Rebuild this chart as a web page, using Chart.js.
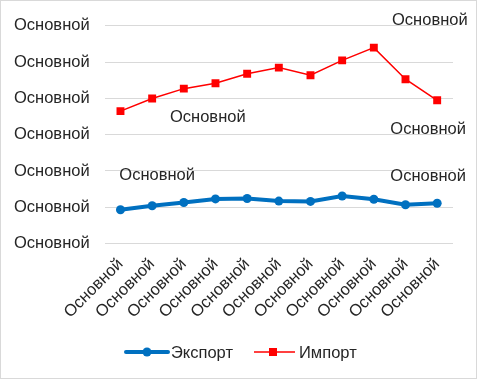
<!DOCTYPE html>
<html>
<head>
<meta charset="utf-8">
<script src="https://cdn.jsdelivr.net/npm/chart.js@4"></script>
<style>
  html, body { margin: 0; padding: 0; background: #fff; }
  #wrap { width: 477px; height: 379px; box-sizing: border-box; border: 1px solid #d9d9d9; }
  canvas { display: block; }
</style>
</head>
<body>
<div id="wrap"><canvas id="grafico" width="475" height="377"></canvas></div>
<script>
const categorias = ["Основной", "Основной", "Основной", "Основной", "Основной", "Основной",
  "Основной", "Основной", "Основной", "Основной", "Основной"];
const exportValores = [0.93, 1.04, 1.13, 1.23, 1.24, 1.17, 1.16, 1.31, 1.22, 1.07, 1.11];
const importValores = [3.65, 4.0, 4.27, 4.42, 4.68, 4.85, 4.64, 5.05, 5.4, 4.53, 3.95];
const yTickTexto = "Основной";
const rotuloTexto = "Основной";

const familia = "'Liberation Sans', Arial, sans-serif";
const fonte = "16.5px " + familia;
const corTexto = "#262626";

// rotulos de dados: [dataset, indice, dx, dy]
const rotulos = [
  [1, 2, 24, 29],
  [1, 8, 56, -27],
  [1, 10, -9, 29],
  [0, 1, 5, -30],
  [0, 10, -9, -27]
];

const pluginRotulos = {
  id: "rotulos",
  afterDatasetsDraw(chart) {
    const ctx = chart.ctx;
    ctx.save();
    ctx.font = fonte;
    ctx.fillStyle = corTexto;
    ctx.textAlign = "center";
    ctx.textBaseline = "middle";
    rotulos.forEach(([ds, i, dx, dy]) => {
      const p = chart.getDatasetMeta(ds).data[i];
      ctx.fillText(rotuloTexto, p.x + dx, p.y + dy);
    });
    ctx.restore();
  }
};

const pluginLegenda = {
  id: "legendaCustom",
  afterDraw(chart) {
    const ctx = chart.ctx;
    const y = 351;
    ctx.save();
    ctx.font = fonte;
    ctx.textBaseline = "middle";
    ctx.fillStyle = corTexto;

    // Экспорт
    ctx.strokeStyle = "#0070C0";
    ctx.lineWidth = 4;
    ctx.lineCap = "round";
    ctx.beginPath();
    ctx.moveTo(125, y);
    ctx.lineTo(167, y);
    ctx.stroke();
    ctx.fillStyle = "#0070C0";
    ctx.beginPath();
    ctx.arc(146, y, 4.5, 0, Math.PI * 2);
    ctx.fill();
    ctx.fillStyle = corTexto;
    ctx.fillText(chart.data.datasets[0].label, 170, y + 1);

    // Импорт
    ctx.strokeStyle = "#FF0000";
    ctx.lineWidth = 1.5;
    ctx.lineCap = "butt";
    ctx.beginPath();
    ctx.moveTo(253, y);
    ctx.lineTo(294, y);
    ctx.stroke();
    ctx.fillStyle = "#FF0000";
    ctx.fillRect(268, y - 4, 8, 8);
    ctx.fillStyle = corTexto;
    ctx.fillText(chart.data.datasets[1].label, 298, y + 1);
    ctx.restore();
  }
};

const ctx = document.getElementById("grafico").getContext("2d");

new Chart(ctx, {
  type: "line",
  data: {
    labels: categorias,
    datasets: [
      {
        label: "Экспорт",
        data: exportValores,
        borderColor: "#0070C0",
        backgroundColor: "#0070C0",
        borderWidth: 4,
        pointStyle: "circle",
        pointRadius: 4.5,
        pointBorderWidth: 0,
        tension: 0
      },
      {
        label: "Импорт",
        data: importValores,
        borderColor: "#FF0000",
        backgroundColor: "#FF0000",
        borderWidth: 1.5,
        pointStyle: "rect",
        pointRadius: 5.6,
        pointBorderWidth: 0,
        tension: 0
      }
    ]
  },
  options: {
    responsive: false,
    animation: false,
    layout: {
      padding: { left: -2, right: 23, top: 14, bottom: 45 }
    },
    plugins: {
      legend: { display: false },
      tooltip: { enabled: false }
    },
    scales: {
      x: {
        offset: true,
        grid: { display: false, drawTicks: false },
        border: { display: false },
        ticks: {
          autoSkip: false,
          maxRotation: 45,
          minRotation: 45,
          padding: 11,
          color: corTexto,
          font: { family: familia, size: 16.5 }
        }
      },
      y: {
        min: 0,
        max: 6,
        grid: { color: "#d9d9d9", lineWidth: 1, drawTicks: false },
        border: { display: false },
        ticks: {
          stepSize: 1,
          padding: 15,
          color: corTexto,
          font: { family: familia, size: 16.5 },
          callback: () => yTickTexto
        }
      }
    }
  },
  plugins: [pluginRotulos, pluginLegenda]
});
</script>
</body>
</html>
